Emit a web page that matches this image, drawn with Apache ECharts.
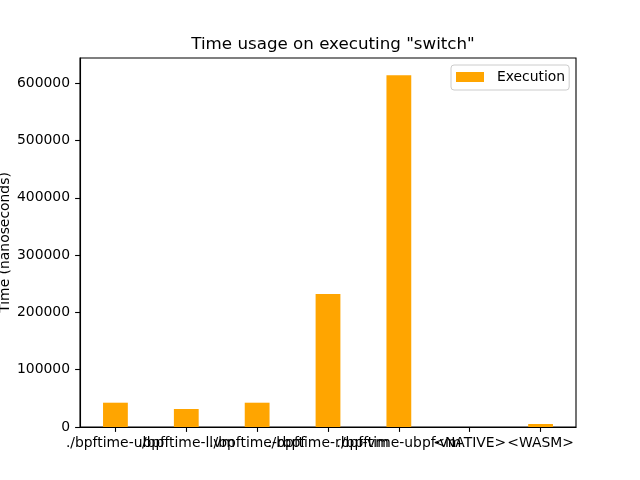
<!DOCTYPE html>
<html>
<head>
<meta charset="utf-8">
<script src="https://cdn.jsdelivr.net/npm/echarts@6/dist/echarts.min.js"></script>
<style>html,body{margin:0;padding:0;background:#fff}#c{width:640px;height:480px}</style>
</head>
<body>
<div id="c"></div>
<script>
const categories = ["./bpftime-ubpf", "./bpftime-llvm", "./bpftime-rbpf", "./bpftime-rbpf-vm", "./bpftime-ubpf-vm", "<NATIVE>", "<WASM>"];
const executionValues = [42400, 31400, 42400, 232000, 614000, 0, 5200];
const yTicks = [0, 100000, 200000, 300000, 400000, 500000, 600000];
const seriesName = "Execution";
const titleText = 'Time usage on executing "switch"';
const yAxisName = "Time (nanoseconds)";

const FONT = "DejaVu Sans";
const chart = echarts.init(document.getElementById('c'), null, {renderer: 'canvas'});
chart.setOption({
  animation: false,
  backgroundColor: '#ffffff',
  title: {
    text: titleText,
    left: 328, top: 31, textAlign: 'center',
    textStyle: {fontFamily: FONT, fontSize: 16.7, fontWeight: 'normal', color: '#000'}
  },
  legend: {
    data: [seriesName],
    left: 451, top: 65,
    padding: [4, 4, 5, 5],
    itemWidth: 28, itemHeight: 10, itemGap: 0,
    icon: 'rect',
    backgroundColor: '#fff',
    borderColor: '#cccccc', borderWidth: 1, borderRadius: 3,
    textStyle: {fontFamily: FONT, fontSize: 13.9, color: '#000', padding: [0, 0, 0, 8], lineHeight: 16}
  },
  grid: {
    left: 80, right: 64, top: 58, bottom: 53,
    containLabel: false,
    outerBoundsMode: 'none',
    show: true, borderColor: '#000', borderWidth: 1.1, backgroundColor: 'transparent'
  },
  xAxis: {
    type: 'category',
    data: categories,
    boundaryGap: true,
    axisLine: {show: true, lineStyle: {color: '#000', width: 1.1}},
    axisTick: {show: true, alignWithLabel: true, length: 4.9, lineStyle: {color: '#000', width: 1.1}},
    axisLabel: {interval: 0, margin: 9, fontFamily: FONT, fontSize: 13.9, color: '#000', hideOverlap: false},
    splitLine: {show: false}
  },
  yAxis: {
    type: 'value',
    min: 0, max: 644000, interval: 100000,
    name: yAxisName,
    nameLocation: 'middle',
    nameGap: 68,
    nameRotate: 90,
    nameMoveOverlap: false,
    nameTextStyle: {fontFamily: FONT, fontSize: 13.9, color: '#000'},
    axisLine: {show: true, lineStyle: {color: '#000', width: 1.1}},
    axisTick: {show: true, length: 4.9, lineStyle: {color: '#000', width: 1.1}, customValues: yTicks},
    axisLabel: {margin: 10, fontFamily: FONT, fontSize: 13.9, color: '#000', customValues: yTicks, formatter: v => String(v)},
    splitLine: {show: false}
  },
  series: [{
    name: seriesName,
    type: 'bar',
    data: executionValues,
    barWidth: '35%',
    itemStyle: {color: '#FFA500'}
  }]
});
</script>
</body>
</html>
